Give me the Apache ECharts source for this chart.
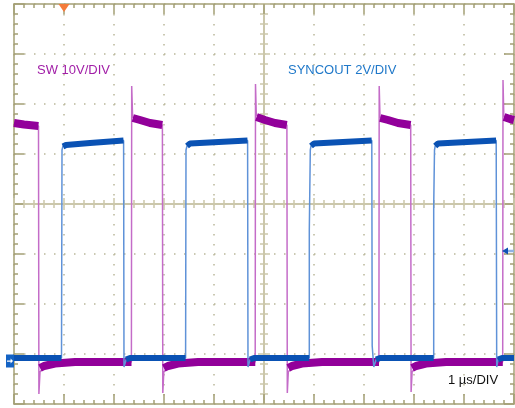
<!DOCTYPE html>
<html>
<head>
<meta charset="utf-8">
<script src="https://cdn.jsdelivr.net/npm/echarts/dist/echarts.min.js"></script>
<style>
  html, body { margin: 0; padding: 0; background: #ffffff; }
  #chart { width: 515px; height: 408px; }
</style>
</head>
<body>
<div id="chart"></div>
<script>
// ---- Data (time in µs relative to trigger, voltages in V) ----
const timeRange = [-1, 9];          // 10 divisions, 1 µs/DIV
const divRange = [-4, 4];           // 8 vertical divisions
const swRange = [-8.6, 71.4];       // SW 10V/DIV
const syncRange = [-1.72, 14.28];   // SYNCOUT 2V/DIV

const channelLabels = ['SW 10V/DIV', 'SYNCOUT 2V/DIV'];
const timebaseLabel = '1 µs/DIV';

// SW node trace (full path, including edges and ringing)
const swTrace = [
  [-1.000, 47.6], [-0.800, 47.3], [-0.510, 47.0], [-0.502, -6.6], [-0.480, -2.2],
  [-0.400, -1.2], [-0.180, -0.6], [0.220, -0.2], [1.348, -0.2], [1.354, 55.0],
  [1.372, 48.8], [1.520, 48.2], [1.720, 47.6], [1.968, 47.2], [1.976, -6.4],
  [1.996, -2.2], [2.080, -1.2], [2.280, -0.6], [2.680, -0.2], [3.824, -0.2],
  [3.830, 55.4], [3.846, 49.2], [4.020, 48.2], [4.220, 47.6], [4.458, 47.2],
  [4.466, -6.4], [4.486, -2.2], [4.560, -1.2], [4.760, -0.6], [5.160, -0.2],
  [6.298, -0.2], [6.304, 55.0], [6.320, 48.8], [6.480, 48.2], [6.680, 47.6],
  [6.934, 47.2], [6.942, -6.2], [6.962, -2.2], [7.040, -1.2], [7.240, -0.6],
  [7.640, -0.2], [8.774, -0.2], [8.780, 56.2], [8.796, 49.0], [8.920, 48.4],
  [9.000, 48.2]
];
// SW noisy plateaus (null = break)
const swBand = [
  [-1.000, 47.6], [-0.800, 47.3], [-0.512, 47.0], null,
  [-0.480, -1.4], [-0.400, -1.0], [-0.180, -0.5], [0.220, -0.2], [1.350, -0.2], null,
  [1.376, 48.6], [1.520, 48.2], [1.720, 47.6], [1.966, 47.2], null,
  [1.996, -1.4], [2.080, -1.0], [2.280, -0.5], [2.680, -0.2], [3.826, -0.2], null,
  [3.850, 48.8], [4.020, 48.2], [4.220, 47.6], [4.456, 47.2], null,
  [4.486, -1.4], [4.560, -1.0], [4.760, -0.5], [5.160, -0.2], [6.300, -0.2], null,
  [6.324, 48.6], [6.480, 48.2], [6.680, 47.6], [6.932, 47.2], null,
  [6.962, -1.4], [7.040, -1.0], [7.240, -0.5], [7.640, -0.2], [8.776, -0.2], null,
  [8.800, 48.8], [8.920, 48.4], [9.000, 48.2]
];

// SYNCOUT trace (full path)
const syncTrace = [
  [-1.000, 0.12], [-0.050, 0.12], [-0.040, 8.44], [-0.020, 8.60], [0.040, 8.64],
  [0.520, 8.72], [1.192, 8.82], [1.200, -0.24], [1.240, 0.04], [1.320, 0.12],
  [2.432, 0.12], [2.440, 8.44], [2.460, 8.60], [2.520, 8.70], [3.672, 8.82],
  [3.680, -0.24], [3.720, 0.04], [3.800, 0.12], [4.906, 0.12], [4.906, 5.24],
  [4.926, 5.32], [4.926, 8.44], [4.940, 8.60], [5.000, 8.70], [6.156, 8.82],
  [6.164, 0.60], [6.196, 0.60], [6.196, -0.24], [6.240, 0.04], [6.320, 0.12],
  [7.394, 0.12], [7.394, 6.16], [7.410, 6.24], [7.410, 8.44], [7.424, 8.60],
  [7.480, 8.70], [8.644, 8.82], [8.654, -0.24], [8.680, 0.04], [8.760, 0.12],
  [9.000, 0.12]
];
// SYNCOUT noisy plateaus (null = break)
const syncBand = [
  [-1.000, 0.12], [-0.052, 0.12], null,
  [-0.020, 8.58], [0.040, 8.64], [0.520, 8.72], [1.190, 8.82], null,
  [1.240, 0.06], [1.320, 0.12], [2.430, 0.12], null,
  [2.460, 8.60], [2.520, 8.70], [3.670, 8.82], null,
  [3.720, 0.06], [3.800, 0.12], [4.904, 0.12], null,
  [4.940, 8.60], [5.000, 8.70], [6.154, 8.82], null,
  [6.240, 0.06], [6.320, 0.12], [7.392, 0.12], null,
  [7.424, 8.60], [7.480, 8.70], [8.642, 8.82], null,
  [8.680, 0.06], [8.760, 0.12], [9.000, 0.12]
];

// Markers: trigger position (time), ground reference, trigger level (SYNCOUT volts)
const triggerTime = 0;
const groundLevel = 0;
const triggerLevel = 4.4;

// ---- Styling ----
const BORDER = '#a4a076';
const DOT = '#b9b79b';
const CENTER = '#cbc7ab';
const SW_EDGE = '#c46cc8';
const SW_BAND = '#92009a';
const SY_EDGE = '#5f92d8';
const SY_BAND = '#0a52b4';

function toData(arr) { return arr.map(p => p === null ? '-' : p); }

function borderAxis(pos, range, withSplit) {
  return {
    type: 'value', position: pos, min: range[0], max: range[1], interval: 1,
    axisLine: { show: true, onZero: false, lineStyle: { color: BORDER, width: 1.5 } },
    axisTick: { show: true, inside: true, length: 10, lineStyle: { color: BORDER, width: 1.5 } },
    minorTick: { show: true, splitNumber: 5, length: 4, lineStyle: { color: BORDER, width: 1.5 } },
    axisLabel: { show: false },
    splitLine: { show: withSplit, lineStyle: { color: DOT, width: 1.5, type: [1.5, 8.5] } },
    minorSplitLine: { show: false },
    silent: true
  };
}
function centerAxis(pos, range, offset, inside) {
  return {
    type: 'value', position: pos, offset: offset, min: range[0], max: range[1], interval: 1,
    axisLine: { show: true, onZero: false, lineStyle: { color: CENTER, width: 2 } },
    axisTick: { show: true, inside: inside, length: 6, lineStyle: { color: CENTER, width: 1.5 } },
    minorTick: { show: true, splitNumber: 5, length: 4, lineStyle: { color: CENTER, width: 1.5 } },
    axisLabel: { show: false },
    splitLine: { show: false },
    silent: true
  };
}

const chart = echarts.init(document.getElementById('chart'), null, { renderer: 'canvas' });
const option = {
  animation: false,
  backgroundColor: '#ffffff',
  grid: { left: 14, right: 1, top: 4, bottom: 4, containLabel: false },
  xAxis: [
    borderAxis('bottom', timeRange, true),
    borderAxis('top', timeRange, false),
    centerAxis('bottom', timeRange, -200, true),
    centerAxis('bottom', timeRange, -200, false)
  ],
  yAxis: [
    borderAxis('left', divRange, true),
    borderAxis('right', divRange, false),
    centerAxis('left', divRange, -250, true),
    centerAxis('left', divRange, -250, false),
    { type: 'value', min: swRange[0], max: swRange[1], show: false },
    { type: 'value', min: syncRange[0], max: syncRange[1], show: false }
  ],
  series: [
    {
      name: 'SW edges', type: 'line', xAxisIndex: 0, yAxisIndex: 4,
      data: toData(swTrace), showSymbol: false, silent: true,
      lineStyle: { color: SW_EDGE, width: 1.5 }, z: 3
    },
    {
      name: 'SW', type: 'line', xAxisIndex: 0, yAxisIndex: 4,
      data: toData(swBand), showSymbol: false, silent: true, connectNulls: false,
      lineStyle: { color: SW_BAND, width: 8, cap: 'butt', join: 'bevel' }, z: 4
    },
    {
      name: 'SYNCOUT edges', type: 'line', xAxisIndex: 0, yAxisIndex: 5,
      data: toData(syncTrace), showSymbol: false, silent: true,
      lineStyle: { color: SY_EDGE, width: 1.5 }, z: 5,
      markPoint: {
        silent: true,
        label: { show: false },
        data: [
          { coord: [triggerTime, syncRange[1]], symbol: 'triangle', symbolRotate: 180,
            symbolSize: [11, 8], symbolOffset: [0, 4], itemStyle: { color: '#f47b3a' } },
          { coord: [timeRange[0], groundLevel], symbol: 'rect', symbolSize: [8, 13],
            symbolOffset: [-4, 0], itemStyle: { color: '#1463c4' } },
          { coord: [timeRange[0], groundLevel],
            symbol: 'path://M0,3 L6,3 L6,0 L10,4 L6,8 L6,5 L0,5 Z', symbolSize: [6, 5],
            symbolOffset: [-4, 0], itemStyle: { color: '#ffffff' } },
          { coord: [timeRange[1], triggerLevel], symbol: 'rect', symbolSize: [8, 2.5],
            symbolOffset: [-4, 0], itemStyle: { color: '#8fb2e4' } },
          { coord: [timeRange[1], triggerLevel], symbol: 'triangle', symbolRotate: 90,
            symbolSize: [7, 6], symbolOffset: [-9, 0], itemStyle: { color: '#1052b4' } }
        ]
      }
    },
    {
      name: 'SYNCOUT', type: 'line', xAxisIndex: 0, yAxisIndex: 5,
      data: toData(syncBand), showSymbol: false, silent: true, connectNulls: false,
      lineStyle: { color: SY_BAND, width: 6, cap: 'butt', join: 'bevel' }, z: 6
    }
  ],
  graphic: [
    { type: 'text', left: 37, top: 64, z: 20, silent: true,
      style: { text: channelLabels[0], fill: '#a11ea7', font: '13px "Liberation Sans", Arial, sans-serif' } },
    { type: 'text', left: 288, top: 64, z: 20, silent: true,
      style: { text: channelLabels[1], fill: '#1f78c9', font: '13px "Liberation Sans", Arial, sans-serif' } },
    { type: 'text', left: 448, top: 374, z: 20, silent: true,
      style: { text: timebaseLabel, fill: '#111111', font: '13px "Liberation Sans", Arial, sans-serif' } }
  ]
};
chart.setOption(option);
</script>
</body>
</html>
